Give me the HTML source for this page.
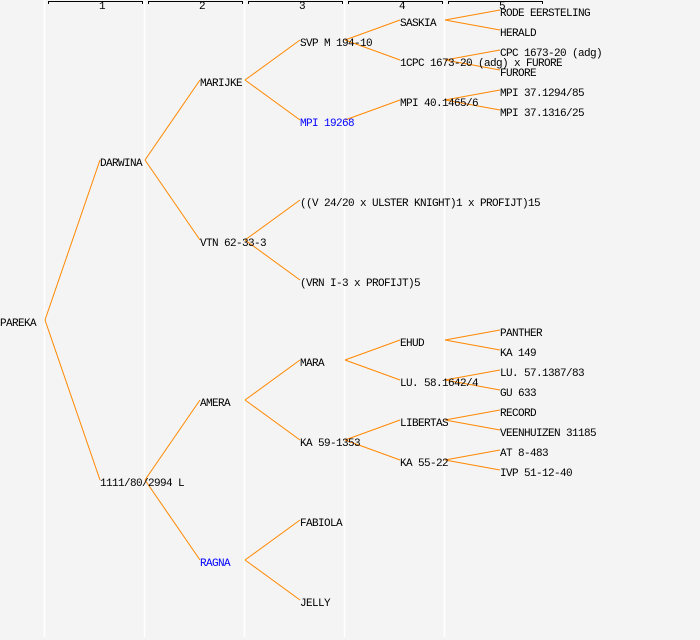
<!DOCTYPE html>
<html><head><meta charset="utf-8"><style>
html,body{margin:0;padding:0;background:#f4f4f4;}
svg{display:block;}
text{font-family:"Liberation Mono","DejaVu Sans Mono",monospace;font-size:11px;letter-spacing:-0.6px;fill:#000;}
</style></head><body>
<svg width="700" height="640" viewBox="0 0 700 640" xmlns="http://www.w3.org/2000/svg">
<rect width="700" height="640" fill="#f4f4f4"/>
<g stroke="#ffffff" stroke-width="1.5">
<line x1="44.5" y1="0" x2="44.5" y2="637"/>
<line x1="144.5" y1="0" x2="144.5" y2="637"/>
<line x1="244.5" y1="0" x2="244.5" y2="637"/>
<line x1="344.5" y1="0" x2="344.5" y2="637"/>
<line x1="444.5" y1="0" x2="444.5" y2="637"/>
</g>
<g stroke="#000" stroke-width="1" fill="none">
<path d="M48.5 4V1.5H142.5V4"/>
<path d="M148.5 4V1.5H242.5V4"/>
<path d="M248.5 4V1.5H342.5V4"/>
<path d="M348.5 4V1.5H442.5V4"/>
<path d="M448.5 4V1.5H542.5V4"/>
</g>
<g style="font-size:8px;letter-spacing:0" text-anchor="middle">
<text x="102" y="9">1</text><text x="202" y="9">2</text><text x="302" y="9">3</text><text x="402" y="9">4</text><text x="502" y="9">5</text>
</g>
<g stroke="#ff8800" stroke-width="1" fill="none">
<path d="M45 320L100 160M45 320L100 480"/>
<path d="M145 160L200 80M145 160L200 240M145 480L200 400M145 480L200 560"/>
<path d="M245 80L300 40M245 80L300 120M245 240L300 200M245 240L300 280M245 400L300 360M245 400L300 440M245 560L300 520M245 560L300 600"/>
<path d="M345 40L400 20M345 40L400 60M345 120L400 100M345 360L400 340M345 360L400 380M345 440L400 420M345 440L400 460"/>
<path d="M445 20L500 10M445 20L500 30M445 60L500 50M445 60L500 70M445 100L500 90M445 100L500 110M445 340L500 330M445 340L500 350M445 380L500 370M445 380L500 390M445 420L500 410M445 420L500 430M445 460L500 450M445 460L500 470"/>
</g>
<text x="0" y="326">PAREKA</text>
<text x="100" y="166">DARWINA</text>
<text x="100" y="486">1111/80/2994 L</text>
<text x="200" y="86">MARIJKE</text>
<text x="200" y="246">VTN 62-33-3</text>
<text x="200" y="406">AMERA</text>
<text x="200" y="566" style="fill:#0000ff">RAGNA</text>
<text x="300" y="46">SVP M 194-10</text>
<text x="300" y="126" style="fill:#0000ff">MPI 19268</text>
<text x="300" y="206">((V 24/20 x ULSTER KNIGHT)1 x PROFIJT)15</text>
<text x="300" y="286">(VRN I-3 x PROFIJT)5</text>
<text x="300" y="366">MARA</text>
<text x="300" y="446">KA 59-1353</text>
<text x="300" y="526">FABIOLA</text>
<text x="300" y="606">JELLY</text>
<text x="400" y="26">SASKIA</text>
<text x="400" y="66">1CPC 1673-20 (adg) x FURORE</text>
<text x="400" y="106">MPI 40.1465/6</text>
<text x="400" y="346">EHUD</text>
<text x="400" y="386">LU. 58.1642/4</text>
<text x="400" y="426">LIBERTAS</text>
<text x="400" y="466">KA 55-22</text>
<text x="500" y="16">RODE EERSTELING</text>
<text x="500" y="36">HERALD</text>
<text x="500" y="56">CPC 1673-20 (adg)</text>
<text x="500" y="76">FURORE</text>
<text x="500" y="96">MPI 37.1294/85</text>
<text x="500" y="116">MPI 37.1316/25</text>
<text x="500" y="336">PANTHER</text>
<text x="500" y="356">KA 149</text>
<text x="500" y="376">LU. 57.1387/83</text>
<text x="500" y="396">GU 633</text>
<text x="500" y="416">RECORD</text>
<text x="500" y="436">VEENHUIZEN 31185</text>
<text x="500" y="456">AT 8-483</text>
<text x="500" y="476">IVP 51-12-40</text>
</svg>
</body></html>
